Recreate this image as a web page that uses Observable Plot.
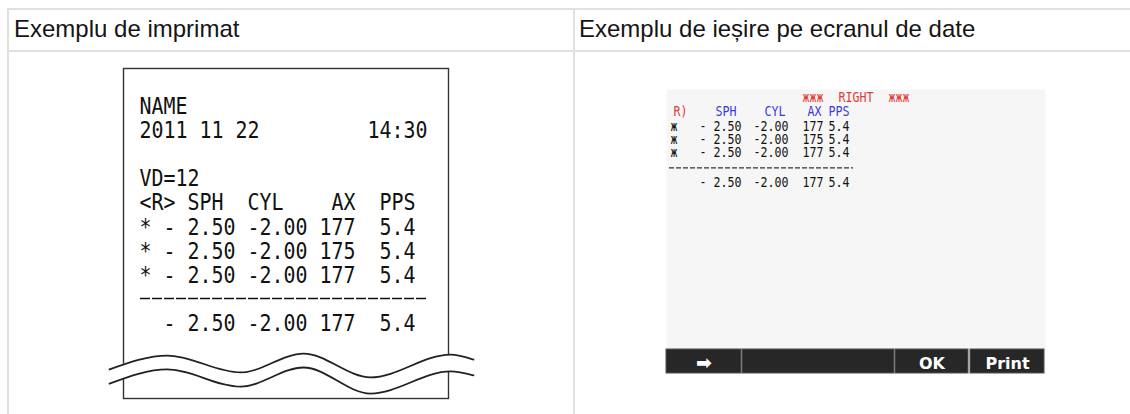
<!DOCTYPE html>
<html><head><meta charset="utf-8">
<script src="https://cdn.jsdelivr.net/npm/d3@7"></script>
<script src="https://cdn.jsdelivr.net/npm/@observablehq/plot@0.6"></script>
<style>
html,body{margin:0;padding:0;background:#fff;}
#page{position:relative;width:1130px;height:414px;overflow:hidden;font-family:"Liberation Sans",Arial,sans-serif;}
.hline{position:absolute;background:#e0e0e0;height:2px;}
.vline{position:absolute;background:#e0e0e0;width:2px;}
.head{position:absolute;top:17px;font-size:24px;line-height:24px;color:#151515;white-space:nowrap;}
#page svg{position:absolute;left:0;top:0;}
#page svg text{white-space:pre;}
</style></head>
<body><div id="page"></div>
<script>
// ---- data ----
const headers = ["Exemplu de imprimat", "Exemplu de ieșire pe ecranul de date"];
const recordName = "NAME";
const printDate = "2011 11 22";
const printTime = "14:30";
const vd = 12;
const eyeShort = "R";
const eyeLong = "RIGHT";
const columns = ["SPH", "CYL", "AX", "PPS"];
const sph = [-2.50, -2.50, -2.50];
const cyl = [-2.00, -2.00, -2.00];
const ax = [177, 175, 177];
const pps = [5.4, 5.4, 5.4];
const average = [-2.50, -2.00, 177, 5.4];
const buttons = ["➡", "", "OK", "Print"];
// torn-paper wave (fractions of the paper sheet)
const waveX = [-0.043, 0.135, 0.36, 0.554, 0.76, 1.006, 1.077];
const waveUpper = [0.912, 0.870, 0.921, 0.864, 0.936, 0.867, 0.882];
const waveLower = [0.955, 0.912, 0.964, 0.906, 0.985, 0.918, 0.930];

// ---- page frame (table) ----
const page = document.getElementById("page");
const addDiv = (cls, css, txt) => { const d = document.createElement("div"); d.className = cls; Object.assign(d.style, css); if (txt) d.textContent = txt; page.appendChild(d); return d; };
addDiv("hline", {left: "7px", top: "8px", width: "1130px"});
addDiv("hline", {left: "7px", top: "50px", width: "1130px"});
addDiv("vline", {left: "7px", top: "8px", height: "420px"});
addDiv("vline", {left: "573px", top: "8px", height: "420px"});
addDiv("head", {left: "14px"}, headers[0]);
addDiv("head", {left: "579px"}, headers[1]);

function condense(svg, label, s) {
  const els = [];
  svg.querySelectorAll(`[aria-label="${label}"]`).forEach(e => {
    if (e.tagName.toLowerCase() === "text") els.push(e);
    else e.querySelectorAll("text").forEach(t => els.push(t));
  });
  els.forEach(t => {
    const x = t.getAttribute("x");
    if (x != null && x !== "" && !isNaN(+x)) t.setAttribute("x", (+x) / s);
    const tr = t.getAttribute("transform") || "";
    t.setAttribute("transform", (tr + ` scale(${s},1)`).trim());
  });
}
const transparent = "background:transparent;overflow:visible;";

// ---- printout: paper sheet ----
const wave = waveX.map((x, i) => ({x, upper: waveUpper[i], lower: waveLower[i]}));
const paper = Plot.plot({
  width: 575, height: 414,
  marginLeft: 123, marginRight: 127, marginTop: 68, marginBottom: 16,
  style: transparent,
  x: {domain: [0, 1], axis: null},
  y: {domain: [0, 1], reverse: true, axis: null},
  marks: [
    Plot.frame({stroke: "#333", strokeWidth: 1.4}),
    Plot.areaY(wave, {x: "x", y1: "upper", y2: "lower", fill: "white", curve: "monotone-x"}),
    Plot.lineY(wave, {x: "x", y: "upper", stroke: "#222", strokeWidth: 1.8, curve: "monotone-x"}),
    Plot.lineY(wave, {x: "x", y: "lower", stroke: "#222", strokeWidth: 1.8, curve: "monotone-x"})
  ]
});
page.appendChild(paper);

// ---- printout: text ----
const rowLine = (mark, s, c, a, p) => `${mark} - ${Math.abs(s).toFixed(2)} ${c.toFixed(2)} ${a}  ${p.toFixed(1)}`;
const printLines = [
  recordName,
  printDate + " ".repeat(9) + printTime,
  "",
  `VD=${vd}`,
  `<${eyeShort}> ${columns[0]}  ${columns[1]}    ${columns[2]}  ${columns[3]}`,
  ...sph.map((s, i) => rowLine("*", s, cyl[i], ax[i], pps[i])),
  "-".repeat(24),
  rowLine(" ", ...average)
];
const printRows = printLines.map((text, row) => ({text, row, rule: /^-+$/.test(text)}));
const printText = Plot.plot({
  width: 575, height: 414,
  style: transparent,
  x: {domain: [0, 24], range: [139, 427], axis: null},
  y: {domain: [0, 9], range: [113.3, 330.7], axis: null},
  marks: [
    Plot.text(printRows.filter(d => !d.rule && d.text), {
      x: 0, y: "row", text: "text", textAnchor: "start", lineAnchor: "bottom",
      fontFamily: "DejaVu Sans Mono", fontSize: 23, fill: "#111", ariaLabel: () => "print-text"
    }),
    Plot.ruleY(printRows.filter(d => d.rule), {
      y: "row", x1: 0, x2: d => d.text.length, dy: -8.5,
      stroke: "#111", strokeWidth: 1.5, strokeDasharray: "10,2", strokeDashoffset: -1
    })
  ]
});
condense(printText, "print-text", 12 / (0.602 * 23));
page.appendChild(printText);

// ---- screen ----
const L = {
  tabs: [4, 33, 47, 87, 136, 162],
  headTabs: [7, 49, 98, 141, 162],
  titleTabs: [136, 172, 222],
  titleY: 12.5, headY: 26.5, dataY: [41, 54, 67], ruleY: 78.3, avgY: 97,
  ruleX: [3, 187],
  barTop: 260, barBottom: 284,
  barEdges: [[0, 75], [76, 228], [229, 302], [304, 378]],
  barBaseline: 279
};
const RED = "#e23b3b", BLUE = "#3a3ad6", INK = "#111";
const screenTexts = [];
["жжж", eyeLong, "жжж"].forEach((t, i) => screenTexts.push({x: L.titleTabs[i], y: L.titleY, text: t, color: RED}));
[eyeShort + ")", ...columns].forEach((t, i) => screenTexts.push({x: L.headTabs[i], y: L.headY, text: t, color: i ? BLUE : RED}));
const dataTokens = (mark, s, c, a, p) => [mark, "-", Math.abs(s).toFixed(2), c.toFixed(2), String(a), p.toFixed(1)];
sph.forEach((s, r) => dataTokens("ж", s, cyl[r], ax[r], pps[r]).forEach((t, i) => screenTexts.push({x: L.tabs[i], y: L.dataY[r], text: t, color: INK})));
dataTokens("", ...average).forEach((t, i) => t && screenTexts.push({x: L.tabs[i], y: L.avgY, text: t, color: INK}));
const barCells = buttons.map((label, i) => ({label, x1: L.barEdges[i][0], x2: L.barEdges[i][1], size: i === 0 ? 19 : 16}));

const screen = Plot.plot({
  width: 1130, height: 414,
  marginLeft: 666, marginRight: 85, marginTop: 89, marginBottom: 41,
  style: transparent,
  x: {domain: [0, 379], range: [666, 1045], axis: null},
  y: {domain: [0, 284], range: [89, 373], axis: null},
  marks: [
    Plot.frame({fill: "#f6f6f6", stroke: null}),
    Plot.text(screenTexts, {
      x: "x", y: "y", text: "text", fill: "color", textAnchor: "start", lineAnchor: "bottom",
      fontFamily: "DejaVu Sans Mono", fontSize: 14.5, ariaLabel: () => "screen-text"
    }),
    Plot.ruleY([L.ruleY], {x1: L.ruleX[0], x2: L.ruleX[1], stroke: "#333", strokeWidth: 1.2, strokeDasharray: "5,2"}),
    Plot.rect(barCells, {x1: "x1", x2: "x2", y1: L.barTop, y2: L.barBottom, fill: "#272727", stroke: "#555", strokeWidth: 1}),
    Plot.text(barCells.filter(d => d.label), {
      x: d => (d.x1 + d.x2) / 2, y: L.barBaseline, text: "label", fill: "white",
      textAnchor: "middle", lineAnchor: "bottom",
      fontFamily: "DejaVu Sans", fontWeight: "bold", fontSize: d => d.size
    })
  ]
});
condense(screen, "screen-text", 7 / (0.602 * 14.5));
page.appendChild(screen);
</script>
</body></html>
